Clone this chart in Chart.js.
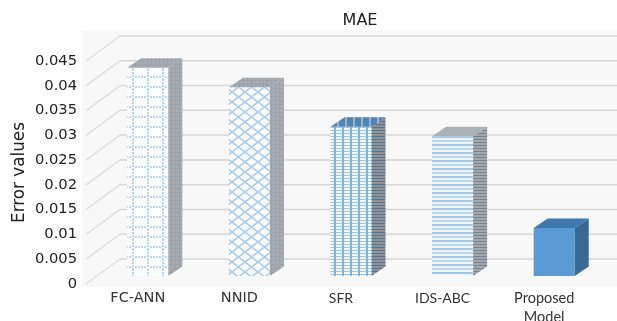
<!DOCTYPE html>
<html>
<head>
<meta charset="utf-8">
<title>MAE</title>
<style>
  html, body { margin: 0; padding: 0; background: #fff; }
  canvas { display: block; }
</style>
<script src="https://cdn.jsdelivr.net/npm/chart.js@4/dist/chart.umd.min.js"></script>
</head>
<body>
<canvas id="maeChart" width="617" height="321"></canvas>
<script>
var categories = ['FC-ANN', 'NNID', 'SFR', 'IDS-ABC', ['Proposed', 'Model']];
var maeValues = [0.042, 0.0381, 0.0301, 0.0282, 0.0097];
var yMax = 0.045;
var yStep = 0.005;

// 3d look: back wall offset from the front plane, bar offset and bar depth
var WALL_DX = 34, WALL_DY = -25;
var BAR_DX = 11, BAR_DY = -8;
var DEPTH_DX = 14, DEPTH_DY = -9.5;

function tile(w, h, bg, paint) {
    var c = document.createElement('canvas');
    c.width = w;
    c.height = h;
    var g = c.getContext('2d');
    g.fillStyle = bg;
    g.fillRect(0, 0, w, h);
    g.lineWidth = 1;
    paint(g);
    return document.createElement('canvas').getContext('2d').createPattern(c, 'repeat');
}

function rects(g, color, list) {
    g.fillStyle = color;
    list.forEach(function (r) { g.fillRect(r[0], r[1], r[2], r[3]); });
}

// dotted grid on white
var dottedGrid = tile(15, 10, '#fdfeff', function (g) {
    rects(g, '#b9d6f1', [[1, 0, 2, 2], [1, 3, 2, 2], [1, 6, 2, 2], [1, 8, 2, 1]]);
    rects(g, '#b9d6f1', [[4, 4, 2, 2], [7, 4, 2, 2], [10, 4, 2, 2], [13, 4, 2, 2]]);
});

// diamond lattice
var lattice = tile(13, 10, '#fbfdff', function (g) {
    g.strokeStyle = '#a8ccec';
    g.lineWidth = 1.6;
    g.beginPath();
    g.moveTo(0, 0); g.lineTo(13, 10);
    g.moveTo(13, 0); g.lineTo(0, 10);
    g.moveTo(-1, 9); g.lineTo(1, 11);
    g.moveTo(12, -1); g.lineTo(14, 1);
    g.stroke();
});

// strong verticals crossed by thin horizontals
var crossBands = tile(8, 3, '#f4f9fd', function (g) {
    rects(g, '#9cc6ea', [[0, 0, 8, 1]]);
    rects(g, '#7fb3e2', [[3, 0, 2, 3]]);
});

// horizontal stripes only
var stripes = tile(8, 8, '#eef5fb', function (g) {
    rects(g, '#a2c8e9', [[0, 0, 8, 2]]);
    rects(g, '#bad7ef', [[0, 4, 8, 2]]);
});

var greyMesh = tile(4, 4, '#a9abad', function (g) {
    rects(g, '#98a3ad', [[0, 0, 1, 4], [0, 0, 4, 1]]);
});
var darkHatch = tile(3, 3, '#8b949c', function (g) {
    rects(g, '#5f7386', [[0, 0, 3, 1]]);
});
var lightHatch = tile(3, 3, '#a2a8ad', function (g) {
    rects(g, '#74838f', [[0, 0, 3, 1]]);
});
var blueTop = tile(8, 4, '#9fb0bf', function (g) {
    rects(g, '#4f86b8', [[0, 0, 6, 4]]);
});

var frontFaces = [dottedGrid, lattice, crossBands, stripes, '#5b9bd5'];
var topFaces = [greyMesh, greyMesh, blueTop, '#adb2b6', '#3f78ad'];
var sideFaces = [greyMesh, greyMesh, darkHatch, lightHatch, '#386a94'];

// panel, back wall and the slanted wall edges, positioned from the value axis
var wallPlugin = {
    id: 'wall',
    beforeDatasetsDraw: function (chart) {
        var ctx = chart.ctx, y = chart.scales.y, area = chart.chartArea;
        ctx.save();
        ctx.fillStyle = '#f8f8f8';
        ctx.fillRect(82, 31, 535, 256);
        ctx.lineWidth = 1.5;
        y.ticks.forEach(function (t) {
            var py = y.getPixelForValue(t.value);
            ctx.strokeStyle = '#e0e0e0';
            ctx.beginPath();
            ctx.moveTo(area.left, py);
            ctx.lineTo(area.left + WALL_DX, py + WALL_DY);
            ctx.stroke();
            ctx.strokeStyle = '#d6d6d6';
            ctx.beginPath();
            ctx.moveTo(area.left + WALL_DX, py + WALL_DY);
            ctx.lineTo(chart.width, py + WALL_DY);
            ctx.stroke();
        });
        ctx.restore();
    }
};

function face(ctx, fill, pts) {
    ctx.fillStyle = fill;
    ctx.beginPath();
    pts.forEach(function (p, i) { i ? ctx.lineTo(p[0], p[1]) : ctx.moveTo(p[0], p[1]); });
    ctx.closePath();
    ctx.fill();
}

// pushes the bars back from the front plane and adds top and side faces
var depthPlugin = {
    id: 'depth',
    afterLayout: function (chart) {
        // title sits over the back wall, not over the canvas
        chart.titleBlock.left = 103;
        chart.titleBlock.right = 617;
    },
    beforeDatasetDraw: function (chart) {
        chart.ctx.save();
        chart.ctx.translate(BAR_DX, BAR_DY);
    },
    afterDatasetDraw: function (chart, args) {
        var ctx = chart.ctx;
        args.meta.data.forEach(function (bar, i) {
            var p = bar.getProps(['x', 'y', 'base', 'width']);
            var l = p.x - p.width / 2, r = p.x + p.width / 2;
            face(ctx, sideFaces[i], [[r, p.y], [r + DEPTH_DX, p.y + DEPTH_DY], [r + DEPTH_DX, p.base + DEPTH_DY], [r, p.base]]);
            face(ctx, topFaces[i], [[l, p.y], [l + DEPTH_DX, p.y + DEPTH_DY], [r + DEPTH_DX, p.y + DEPTH_DY], [r, p.y]]);
        });
        ctx.restore();
    }
};

var chart_mae = new Chart(document.getElementById('maeChart').getContext('2d'), {
    type: 'bar',
    data: {
        labels: categories,
        datasets: [{
            label: 'MAE',
            data: maeValues,
            backgroundColor: frontFaces,
            borderWidth: 0,
            clip: false,
            categoryPercentage: 1,
            barPercentage: 0.404
        }]
    },
    plugins: [wallPlugin, depthPlugin],
    options: {
        responsive: false,
        animation: false,
        layout: { padding: { right: 23 } },
        plugins: {
            legend: { display: false },
            tooltip: { enabled: false },
            title: {
                display: true,
                text: 'MAE',
                color: '#222',
                font: { family: '"DejaVu Sans"', size: 16, weight: 'normal' },
                padding: { top: 11, bottom: 30.8 }
            }
        },
        scales: {
            x: {
                grid: { display: false, drawTicks: false },
                border: { display: false },
                afterFit: function (scale) { scale.height = 37; },
                ticks: {
                    color: '#333',
                    padding: 5,
                    labelOffset: 1,
                    maxRotation: 0,
                    autoSkip: false,
                    font: function (c) {
                        if (c.index < 2) return { family: '"DejaVu Sans"', size: 14.5, lineHeight: 1.3 };
                        return { family: 'Lato', size: c.index < 4 ? 14 : 14.5, lineHeight: 1.3 };
                    }
                }
            },
            y: {
                min: 0,
                max: yMax,
                grid: { display: false, drawTicks: false },
                border: { display: false },
                afterFit: function (scale) { scale.width = 86; },
                title: {
                    display: true,
                    text: 'Error values',
                    color: '#222',
                    padding: { top: 10, bottom: 0 },
                    font: { family: '"DejaVu Sans"', size: 16.8, weight: 'normal' }
                },
                ticks: {
                    stepSize: yStep,
                    color: '#222',
                    padding: 9,
                    font: { family: '"DejaVu Sans"', size: 14.7 },
                    callback: function (v) { return String(parseFloat(v.toFixed(3))); }
                }
            }
        }
    }
});
</script>
</body>
</html>
